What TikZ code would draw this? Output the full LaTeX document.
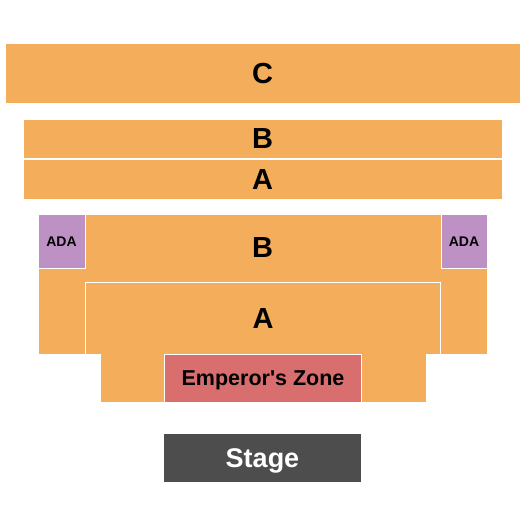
\documentclass[tikz,border=0pt]{standalone}
\usepackage{fontspec}
\setmainfont{Liberation Sans}[Ligatures=TeXOff]
\definecolor{seat}{RGB}{243,173,91}
\definecolor{ada}{RGB}{190,145,196}
\definecolor{emp}{RGB}{216,110,110}
\definecolor{stagec}{RGB}{77,77,77}
\tikzset{
  sec/.style={draw=white, line width=1pt, inner sep=0pt, text depth=0pt},
  lbl/.style={inner sep=0pt, text depth=0pt},
  big/.style={font=\fontsize{29}{29}\selectfont\bfseries, text height=20.8pt},
  small/.style={font=\fontsize{14}{14}\selectfont\bfseries, text height=10pt},
  mid/.style={font=\fontsize{21.5}{21.5}\selectfont\bfseries, text height=15.4pt},
  stg/.style={font=\fontsize{27}{27}\selectfont\bfseries, text height=19.3pt}
}
\begin{document}
\begin{tikzpicture}[x=1pt,y=-1pt]
\useasboundingbox[fill=white] (0,0) rectangle (525,525);
% C
\node[sec, fill=seat, minimum width=515pt, minimum height=60pt, big] (c) at (262.5,73) {C};
% upper B, A
\node[sec, fill=seat, minimum width=479pt, minimum height=39pt, big] (bt) at (262.5,138.5) {B};
\node[sec, fill=seat, minimum width=479pt, minimum height=40pt, big] (at) at (262.5,179) {A};
% lower B polygon
\path[draw=white, line width=1pt, fill=seat] (38,214) -- (487,214) -- (487,354) -- (426,354) -- (426,402) -- (100,402) -- (100,354) -- (38,354) -- cycle;
\node[lbl, big] (bl) at (262.5,247) {B};
% ADA
\node[sec, fill=ada, minimum width=47pt, minimum height=54pt, small] (adal) at (61.5,241) {ADA};
\node[sec, fill=ada, minimum width=46pt, minimum height=54pt, small] (adar) at (464,241) {ADA};
% lower A polygon
\path[draw=white, line width=1pt, fill=seat] (85.5,282.5) -- (440.5,282.5) -- (440.5,354) -- (426,354) -- (426,402) -- (100,402) -- (100,354) -- (85.5,354) -- cycle;
\node[lbl, big] (al) at (263,318.25) {A};
% Emperor's Zone
\node[sec, fill=emp, minimum width=197pt, minimum height=48pt, mid] (ez) at (263,378) {Emperor's Zone};
% Stage
\node[lbl, fill=stagec, text=white, minimum width=197pt, minimum height=48pt, stg] (st) at (262.5,458) {Stage};
\end{tikzpicture}
\end{document}
